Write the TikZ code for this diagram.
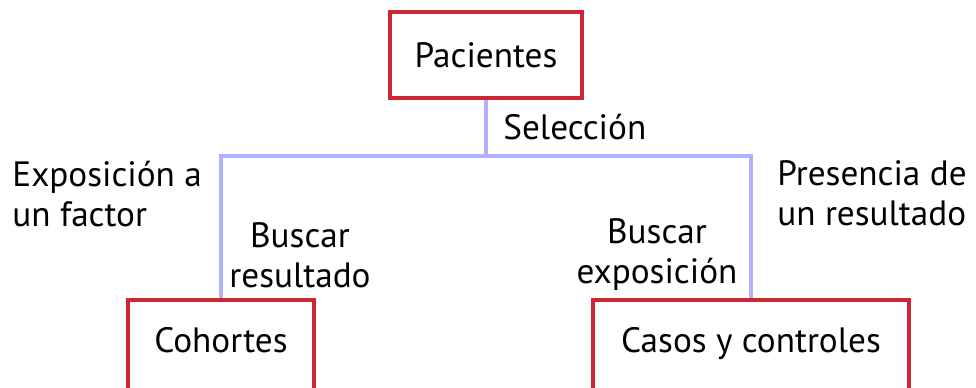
\documentclass[tikz,border=0pt]{standalone}
\usepackage{fontspec}
\setmainfont{PT Sans}
\definecolor{boxred}{RGB}{205,40,50}
\definecolor{linkblue}{RGB}{176,176,255}
\begin{document}
\begin{tikzpicture}[x=0.5pt, y=-0.5pt]
        \tikzset{box/.style = {draw=boxred, line width=2pt, inner sep=0pt, font=\fontsize{17.6}{20}\selectfont}}
        \tikzset{lowbox/.style = {box, anchor=north, minimum height=52pt, text height=12pt, text depth=12pt}}
        \tikzset{link/.style = {draw=linkblue, line width=2.2pt}}
        \tikzset{txt/.style = {inner sep=0pt, font=\fontsize{17.6}{20}\selectfont}}

        \useasboundingbox (0,0) rectangle (976,387);

        \node[box, minimum width=96pt, minimum height=43pt] (pac) at (486,55) {Pacientes};
        \node[lowbox, minimum width=93pt] (coh) at (221,298) {Cohortes};
        \node[lowbox, minimum width=158pt] (cas) at (751,298) {Casos y controles};
        \coordinate (split) at (486,156);

        \draw[link] (pac) -- (split);
        \draw[link] (coh.north) |- (split) -| (cas.north);

        \node[txt, anchor=west] (sel) at (503,127) {Selección};
        \node[txt, anchor=west, align=left] (expo) at (12,194) {Exposición a\\un factor};
        \node[txt, align=center] (bres) at (300,255) {Buscar\\resultado};
        \node[txt, align=center] (bexp) at (657,255) {Buscar\\exposición};
        \node[txt, anchor=west, align=left] (pres) at (777,193) {Presencia de\\un resultado};

\end{tikzpicture}
\end{document}
